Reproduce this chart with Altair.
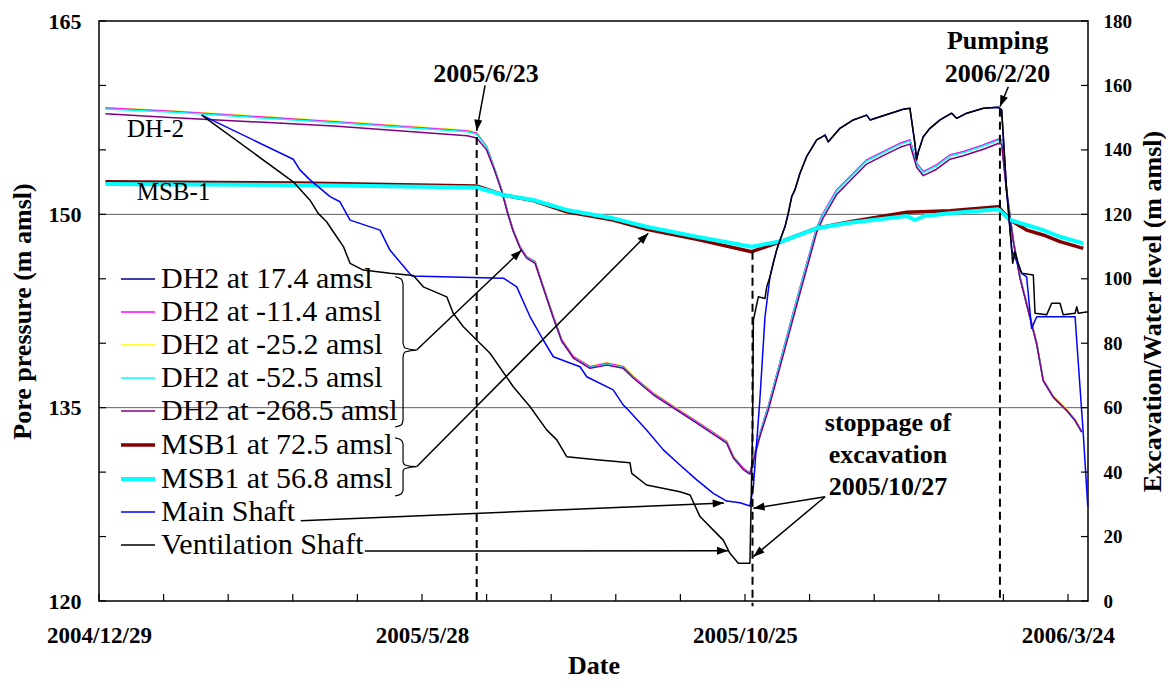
import altair as alt
import pandas as pd

SERIF = "Liberation Serif"

# ---------------- series (legend order) ----------------
SERIES = ["DH2 at 17.4 amsl", "DH2 at -11.4 amsl", "DH2 at -25.2 amsl", "DH2 at -52.5 amsl",
          "DH2 at -268.5 amsl", "MSB1 at 72.5 amsl", "MSB1 at 56.8 amsl", "Main Shaft",
          "Ventilation Shaft"]
COLORS = ["#000080", "#FF00FF", "#FFFF00", "#00FFFF", "#800080", "#800000", "#00FFFF",
          "#0000FF", "#000000"]
WIDTHS = [1.5, 1.5, 1.5, 1.5, 1.5, 3.5, 4.0, 1.5, 1.5]

# days since 2004/12/29
DH2_DAYS = [3, 35, 109, 171, 175.4, 180, 183.9, 187, 189.9, 192.3, 195.5, 198.6, 202.5, 206.3,
            211, 214.9, 220.3, 228, 235.8, 243.5, 248.1, 257.4, 266.7, 277.6, 291.5, 294.6,
            299.2, 302.3, 307, 310.8, 317.8, 324, 333.3, 336.4, 342.6, 348.8, 356.5, 364.2,
            372, 376.6, 379.7, 382.8, 389, 395.2, 401.4, 410.7, 417.6, 419.2, 421.5, 424.6,
            427.7, 430.8, 435.5, 438.5, 443.2, 449.4, 453.3, 456.4]
DH2_17_4 = [158.24, 157.97, 157.18, 156.46, 156.28, 155.24, 153.43, 151.88, 150.09, 148.77,
            147.48, 146.70, 146.32, 144.38, 142.05, 140.24, 138.94, 138.17, 138.43, 138.17,
            137.39, 136.10, 135.07, 133.90, 132.35, 131.19, 130.29, 129.90, 133.02, 135.07,
            139.46, 143.34, 148.93, 150.09, 151.88, 152.91, 154.21, 154.85, 155.50, 155.76,
            153.95, 153.30, 153.82, 154.59, 154.85, 155.37, 155.81, 155.76, 151.88, 148.00,
            145.15, 143.09, 139.98, 137.14, 135.84, 134.81, 134.03, 133.13]
DH2_M11_4 = [158.25, 157.98, 157.19, 156.47, 156.29, 155.25, 153.44, 151.89, 150.10, 148.78,
             147.49, 146.71, 146.33, 144.39, 142.06, 140.25, 138.95, 138.18, 138.44, 138.18,
             137.40, 136.11, 135.08, 133.91, 132.36, 131.20, 130.30, 129.91, 133.03, 135.08,
             139.47, 143.35, 148.94, 150.10, 151.89, 152.92, 154.22, 154.86, 155.51, 155.77,
             153.96, 153.31, 153.83, 154.60, 154.86, 155.38, 155.82, 155.77, 151.89, 148.01,
             145.16, 143.10, 139.99, 137.15, 135.85, 134.82, 134.04, 133.14]
DH2_M25_2 = [158.28, 158.02, 157.24, 156.52, 156.33, 155.28, 153.46, 151.90, 150.11, 148.80,
             147.51, 146.74, 146.37, 144.43, 142.10, 140.29, 138.99, 138.22, 138.49, 138.23,
             137.45, 136.16, 135.13, 133.95, 132.41, 131.24, 130.33, 129.93, 133.00, 135.05,
             139.45, 143.33, 148.92, 150.08, 151.87, 152.90, 154.20, 154.84, 155.49, 155.75,
             153.94, 153.29, 153.81, 154.58, 154.84, 155.36, 155.80, 155.75, 151.90, 148.03,
             145.19, 143.14, 140.04, 137.20, 135.90, 134.87, 134.09, 133.19]
DH2_M52_5 = [158.18, 157.92, 157.12, 156.40, 156.22, 155.20, 153.40, 151.85, 150.05, 148.72,
             147.43, 146.65, 146.27, 144.32, 141.99, 140.18, 138.88, 138.11, 138.37, 138.11,
             137.33, 136.04, 135.01, 133.84, 132.29, 131.13, 130.23, 129.85, 132.98, 135.02,
             139.40, 143.28, 148.86, 150.02, 151.81, 152.84, 154.14, 154.78, 155.43, 155.69,
             153.88, 153.23, 153.75, 154.52, 154.78, 155.30, 155.74, 155.69, 151.84, 147.95,
             145.10, 143.04, 139.93, 137.09, 135.79, 134.76, 133.98, 133.08]
DH2_M268_5 = [157.81, 157.50, 156.85, 156.10, 155.92, 155.00, 153.30, 151.80, 150.00, 148.70,
              147.40, 146.60, 146.20, 144.30, 141.95, 140.15, 138.85, 138.05, 138.30, 138.05,
              137.30, 136.00, 134.98, 133.80, 132.25, 131.10, 130.20, 129.85, 132.80, 134.80,
              139.10, 142.95, 148.60, 149.75, 151.55, 152.60, 153.90, 154.55, 155.20, 155.45,
              153.65, 153.00, 153.50, 154.28, 154.55, 155.05, 155.50, 155.45, 151.70, 147.90,
              145.05, 143.00, 139.90, 137.08, 135.80, 134.78, 134.00, 133.10]

MSB1_72_5_DAYS = [3, 93, 175.4, 187.8, 201.7, 217.2, 238.8, 254.3, 277.6, 303.1, 317.8, 333.3,
                  348.8, 375.1, 395.2, 417.6, 423.1, 430.8, 438.5, 446.3, 457.1]
MSB1_72_5 = [152.53, 152.43, 152.20, 151.50, 151.07, 150.20, 149.56, 148.84, 148.06, 147.10,
             147.95, 148.92, 149.43, 150.16, 150.28, 150.59, 149.56, 148.78, 148.40, 147.88,
             147.36]
MSB1_56_8_DAYS = [3, 93, 175.4, 187.8, 201.7, 217.2, 238.8, 254.3, 277.6, 303.1, 317.8, 333.3,
                  348.8, 375.1, 378.9, 383.5, 395.2, 417.6, 423.1, 430.8, 438.5, 446.3, 457.1]
MSB1_56_8 = [152.35, 152.27, 152.08, 151.50, 151.11, 150.34, 149.69, 149.04, 148.26, 147.49,
             147.95, 148.92, 149.35, 149.87, 149.56, 149.87, 150.08, 150.39, 149.56, 149.17,
             148.78, 148.26, 147.75]

MAIN_DAYS = [47.7, 90.2, 93.3, 98.0, 107.3, 111.9, 116.6, 130.5, 135.1, 142.9, 145.2, 187.8,
             194.0, 200.2, 206.3, 211.0, 223.4, 226.5, 238.8, 243.5, 245.8, 254.3, 262.1, 269.8,
             277.6, 285.3, 291.5, 297.7, 302.3, 303.9, 306.9, 309.3, 311.6, 313.1, 314.7, 316.3,
             318.6, 320.1, 321.7, 323.2, 325.5, 328.6, 333.3, 337.2, 338.7, 344.1, 350.3, 356.5,
             358.1, 362.7, 373.5, 376.6, 378.9, 379.7, 380.5, 382.8, 385.9, 390.6, 396.0, 398.3,
             403.0, 410.7, 417.6, 419.2, 421.5, 423.9, 428.5, 430.8, 433.1, 435.5, 453.3, 454.8,
             457.1, 459.2]
MAIN_SHAFT = [150.8, 137.1, 133.8, 130.7, 125.5, 123.9, 118.2, 115.1, 108.9, 102.7, 100.9, 100.2,
              97.5, 88.2, 81.0, 75.8, 72.7, 69.6, 65.5, 60.8, 59.3, 53.1, 46.9, 42.2, 37.6, 33.4,
              31.0, 30.5, 29.5, 35.5, 62.4, 88.2, 100.6, 104.8, 108.9, 112.0, 116.2, 120.3, 125.5,
              127.6, 132.7, 137.9, 143.1, 144.6, 142.5, 146.7, 149.3, 150.8, 149.3, 150.3, 152.6,
              152.9, 142.0, 136.9, 139.4, 144.1, 146.7, 149.3, 151.4, 149.8, 151.4, 152.9, 153.2,
              152.4, 127.6, 108.9, 101.7, 100.6, 84.6, 88.2, 88.2, 73.8, 52.0, 29.3]

VENT_DAYS = [47.7, 90.2, 98.0, 101.8, 105.7, 108.8, 113.5, 116.6, 122.7, 135.1, 146.0, 150.6,
             161.5, 164.5, 169.2, 175.4, 181.6, 192.4, 200.2, 207.9, 212.6, 217.2, 231.1, 246.6,
             247.4, 254.3, 269.8, 274.5, 279.1, 285.3, 289.9, 293.0, 296.9, 302.3, 303.5, 303.9,
             306.2, 309.3, 310.1, 311.6, 313.1, 314.7, 316.3, 318.6, 320.1, 321.7, 323.2, 325.5,
             328.6, 333.3, 337.2, 338.7, 344.1, 350.3, 356.5, 358.1, 362.7, 373.5, 376.6, 378.9,
             379.7, 380.5, 382.8, 385.9, 390.6, 396.0, 398.3, 403.0, 410.7, 417.6, 419.2, 421.5,
             423.9, 424.3, 425.4, 426.9, 428.5, 433.9, 434.7, 440.1, 442.4, 446.3, 447.8, 453.3,
             454.1, 454.8, 459.3]
VENT_SHAFT = [150.8, 130.1, 124.4, 120.3, 117.7, 114.6, 110.0, 104.8, 102.7, 101.7, 101.0, 97.5,
              94.4, 89.3, 85.1, 81.0, 76.9, 66.5, 60.3, 53.1, 50.0, 44.8, 43.8, 42.9, 39.6, 36.0,
              33.9, 32.9, 26.2, 22.0, 18.9, 14.8, 11.7, 11.7, 53.1, 87.2, 94.4, 93.9, 97.5, 100.6,
              104.8, 108.9, 112.0, 116.2, 120.3, 125.5, 127.6, 132.7, 137.9, 143.1, 144.6, 142.5,
              146.7, 149.3, 150.8, 149.3, 150.3, 152.6, 152.9, 142.0, 136.9, 139.4, 144.1, 146.7,
              149.3, 151.4, 149.8, 151.4, 152.9, 153.2, 152.4, 127.6, 108.9, 104.8, 108.4, 104.8,
              101.7, 101.2, 89.3, 88.8, 92.4, 92.4, 88.8, 89.3, 91.3, 89.3, 89.8]

# ---------------- axes ----------------
X_DOMAIN = [0, 459.3]
X_TICK_DAYS = [0, 30, 60, 90, 120, 150, 180, 210, 240, 270, 300, 330, 360, 390, 420, 450]
X_LABEL_DAYS = [0, 150, 300, 450]
X_LABELS = ["2004/12/29", "2005/5/28", "2005/10/25", "2006/3/24"]
LEFT_DOMAIN = [120, 165]
LEFT_TICKS = [120, 125, 130, 135, 140, 145, 150, 155, 160, 165]
LEFT_LABELS = [120, 135, 150, 165]
RIGHT_DOMAIN = [0, 180]
RIGHT_TICKS = [0, 20, 40, 60, 80, 100, 120, 140, 160, 180]
GRID_LEVELS = [135, 150]

# ---------------- annotations (data units, left axis) ----------------
EVENT_DAYS = [175.4, 303.5, 418.4]
EVENT_TOPS = [156.0, 147.1, 158.2]
EVENT_BOTTOMS = [120.0, 119.6, 120.0]

NOTE_TEXT = ["2005/6/23", "Pumping", "2006/2/20", "stoppage of", "excavation", "2005/10/27"]
NOTE_DAY = [179.7, 417.3, 417.3, 366.4, 366.4, 366.4]
NOTE_VAL = [160.27, 162.80, 160.29, 133.19, 130.68, 128.22]

SITE_TEXT = ["DH-2", "MSB-1"]
SITE_DAY = [13.0, 17.5]
SITE_VAL = [156.02, 151.11]

ARROW_FROM_DAY = [179.3, 422.3, 147.5, 147.5, 93.7, 123.5, 337.2, 337.2]
ARROW_FROM_VAL = [160.0, 159.90, 139.47, 130.42, 126.23, 123.88, 128.09, 128.09]
ARROW_TO_DAY = [175.4, 418.4, 196.3, 255.1, 290.2, 292.2, 303.9, 303.9]
ARROW_TO_VAL = [156.47, 158.35, 147.23, 148.53, 127.60, 123.90, 127.19, 123.44]
ARROW_ANGLE = [188, 202, 47, 45, 87.6, 90, 261, 230]

BRACE_DAYS = [137.5, 140.3, 141.2, 141.2, 142.1, 147.5, 142.1, 141.2, 141.2, 140.3, 137.5]
DH2_BRACE_VALS = [145.16, 144.98, 144.59, 140.02, 139.63, 139.47, 139.32, 138.93, 134.04,
                  133.65, 133.50]
MSB_BRACE_VALS = [132.65, 132.49, 132.18, 130.78, 130.55, 130.42, 130.28, 130.09, 128.61,
                  128.30, 128.15]


def frame(name, days, vals):
    assert len(days) == len(vals), name
    return pd.DataFrame({"day": days, "value": vals, "series": name})


pore_df = pd.concat([
    frame(SERIES[0], DH2_DAYS, DH2_17_4),
    frame(SERIES[2], DH2_DAYS, DH2_M25_2),
    frame(SERIES[1], DH2_DAYS, DH2_M11_4),
    frame(SERIES[3], DH2_DAYS, DH2_M52_5),
    frame(SERIES[4], DH2_DAYS, DH2_M268_5),
    frame(SERIES[5], MSB1_72_5_DAYS, MSB1_72_5),
    frame(SERIES[6], MSB1_56_8_DAYS, MSB1_56_8),
], ignore_index=True)
shaft_df = pd.concat([
    frame(SERIES[7], MAIN_DAYS, MAIN_SHAFT),
    frame(SERIES[8], VENT_DAYS, VENT_SHAFT),
], ignore_index=True)

XS = alt.Scale(domain=X_DOMAIN, nice=False, zero=False)
YL = alt.Scale(domain=LEFT_DOMAIN, nice=False, zero=False)
YR = alt.Scale(domain=RIGHT_DOMAIN, nice=False, zero=False)

label_expr = " : ".join(f"datum.value == {d} ? '{t}'" for d, t in zip(X_LABEL_DAYS, X_LABELS)) + " : ''"

x_axis = alt.Axis(values=X_LABEL_DAYS, labelExpr=label_expr, ticks=False, domain=False, grid=False,
                  labelFontSize=23, labelPadding=23, labelFlush=False, labelOverlap=False,
                  labelBound=False, title="Date", titleFontSize=26, titleX=494.5, titleY=64,
                  titleBaseline="middle", titleAlign="center", titleAngle=0)
left_axis = alt.Axis(values=LEFT_LABELS, format="d", ticks=False, domain=False, grid=False,
                     labelFontSize=22, labelPadding=18, title="Pore pressure (m amsl)",
                     titleFontSize=26, titleX=-77, titleY=290, titleAngle=270,
                     titleBaseline="middle", titleAlign="center")
right_axis = alt.Axis(orient="right", values=RIGHT_TICKS, format="d", ticks=False, domain=False,
                      grid=False, labelFontSize=19, labelPadding=15,
                      title="Excavation/Water level (m amsl)", titleFontSize=26, titleX=64,
                      titleY=290, titleAngle=270, titleBaseline="middle", titleAlign="center")

legend = alt.Legend(orient="none", legendX=20, legendY=240, title=None, symbolType="stroke",
                    symbolSize=1156, labelFont=SERIF, labelFontSize=30, labelFontWeight="normal",
                    labelColor="black", rowPadding=0, labelOffset=4, padding=0, symbolLimit=0,
                    labelLimit=500)
color = alt.Color("series:N", scale=alt.Scale(domain=SERIES, range=COLORS), legend=legend)
stroke_w = alt.StrokeWidth("series:N", scale=alt.Scale(type="ordinal", domain=SERIES, range=WIDTHS),
                           legend=legend)


def X(field):
    return alt.X(field, scale=XS, axis=x_axis)


def YLft(field):
    return alt.Y(field, scale=YL, axis=left_axis)


def YAnn(field):
    return alt.Y(field, scale=YL, axis=None)


# ---------- left (pore pressure) group ----------
grid = alt.Chart(pd.DataFrame({"level": GRID_LEVELS})).mark_rule(color="#606060", strokeWidth=1).encode(
    y=YLft("level:Q"))
pore_lines = alt.Chart(pore_df).mark_line(strokeJoin="round").encode(
    x=X("day:Q"), y=YLft("value:Q"), color=color, strokeWidth=stroke_w)
left_ticks = alt.Chart(pd.DataFrame({"v": LEFT_TICKS})).mark_rule(color="black", strokeWidth=1.2).encode(
    y=YLft("v:Q"), x=alt.value(0), x2=alt.value(7))
x_ticks = alt.Chart(pd.DataFrame({"d": X_TICK_DAYS})).mark_rule(color="black", strokeWidth=1.2).encode(
    x=X("d:Q"), y=alt.value(580), y2=alt.value(573))
left_group = alt.layer(grid, pore_lines, left_ticks, x_ticks)

# ---------- right (shaft) group ----------
shaft_lines = alt.Chart(shaft_df).mark_line(strokeJoin="round").encode(
    x=X("day:Q"), y=alt.Y("value:Q", scale=YR, axis=right_axis), color=color, strokeWidth=stroke_w)
right_ticks = alt.Chart(pd.DataFrame({"v": RIGHT_TICKS})).mark_rule(color="black", strokeWidth=1.2).encode(
    y=alt.Y("v:Q", scale=YR, axis=right_axis), x=alt.value(989), x2=alt.value(982))
right_group = alt.layer(shaft_lines, right_ticks)

# ---------- annotations ----------
event_df = pd.DataFrame({"day": EVENT_DAYS, "top": EVENT_TOPS, "bottom": EVENT_BOTTOMS})
events = alt.Chart(event_df).mark_rule(color="black", strokeWidth=2, strokeDash=[8, 5]).encode(
    x=X("day:Q"), y=YAnn("top:Q"), y2="bottom:Q")

arrow_df = pd.DataFrame({"x0": ARROW_FROM_DAY, "y0": ARROW_FROM_VAL, "x1": ARROW_TO_DAY,
                         "y1": ARROW_TO_VAL, "angle": ARROW_ANGLE})
arrows = alt.Chart(arrow_df).mark_rule(color="black", strokeWidth=1.5).encode(
    x=X("x0:Q"), x2="x1:Q", y=YAnn("y0:Q"), y2="y1:Q")
heads = alt.Chart(arrow_df).mark_point(shape="M0,0L-0.36,1L0.36,1Z", filled=True, size=500,
                                       color="black", opacity=1, strokeWidth=0).encode(
    x=X("x1:Q"), y=YAnn("y1:Q"), angle=alt.Angle("angle:Q", scale=None))

brace_df = pd.concat([
    pd.DataFrame({"day": BRACE_DAYS, "value": DH2_BRACE_VALS, "brace": "DH2",
                  "i": list(range(len(BRACE_DAYS)))}),
    pd.DataFrame({"day": BRACE_DAYS, "value": MSB_BRACE_VALS, "brace": "MSB1",
                  "i": list(range(len(BRACE_DAYS)))}),
], ignore_index=True)
braces = alt.Chart(brace_df).mark_line(color="black", strokeWidth=1.2, interpolate="monotone").encode(
    x=X("day:Q"), y=YAnn("value:Q"), detail="brace:N", order="i:Q")

notes = alt.Chart(pd.DataFrame({"day": NOTE_DAY, "value": NOTE_VAL, "text": NOTE_TEXT})).mark_text(
    font=SERIF, fontSize=26, fontWeight="bold", align="center", baseline="alphabetic",
    color="black").encode(x=X("day:Q"), y=YAnn("value:Q"), text="text:N")
sites = alt.Chart(pd.DataFrame({"day": SITE_DAY, "value": SITE_VAL, "text": SITE_TEXT})).mark_text(
    font=SERIF, fontSize=25, align="left", baseline="alphabetic", color="black").encode(
    x=X("day:Q"), y=YAnn("value:Q"), text="text:N")

annot_group = alt.layer(events, arrows, heads, braces, notes, sites)

chart = alt.layer(left_group, right_group, annot_group).resolve_scale(y="independent").properties(
    width=989, height=580,
    padding={"left": 91, "top": 13, "right": 78, "bottom": 79},
    autosize=alt.AutoSizeParams(type="none"),
).configure_view(stroke="black", strokeWidth=1.5).configure_axis(
    labelFont=SERIF, titleFont=SERIF, labelFontWeight="bold", titleFontWeight="bold",
    labelColor="black", titleColor="black")

chart.save("out.html", embed_options={"renderer": "svg", "actions": False})
